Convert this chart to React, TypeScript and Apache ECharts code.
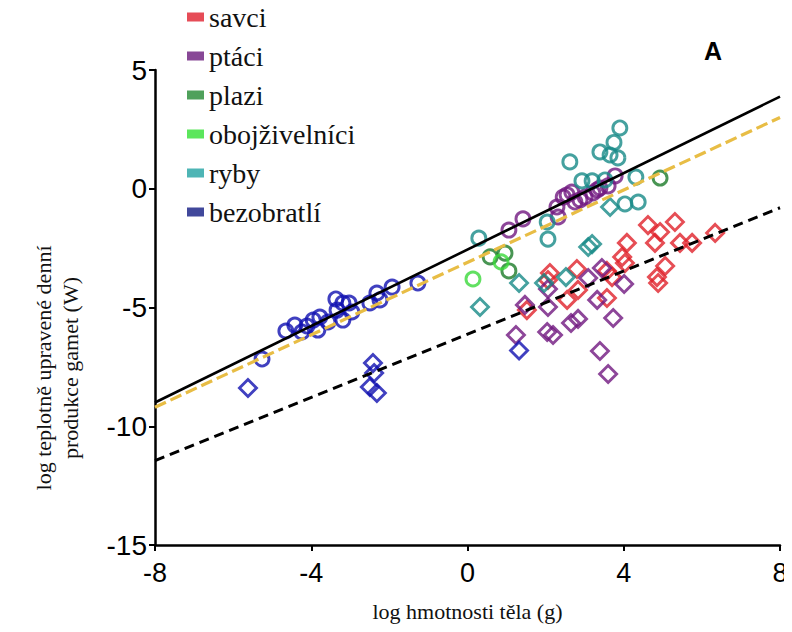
import React, { useEffect, useRef } from "react";
import * as echarts from "echarts";

// ---- data (log body mass [g], log temperature-corrected gamete production [W]) ----
const speciesNames = ["savci", "ptáci", "plazi", "obojživelníci", "ryby", "bezobratlí"];
const speciesColors = ["#e0222a", "#701880", "#1c7a28", "#3ad83a", "#178a87", "#1010b0"];
const legendColors = ["#e01f2d", "#6a1a7c", "#238a32", "#33e033", "#22a2a2", "#111a82"];

const savciDiamonds = [
  [1.52, -5.11], [2.11, -3.55], [2.06, -3.84], [2.8, -3.38], [2.55, -4.68], [2.83, -4.26],
  [3.57, -3.46], [3.7, -3.72], [3.57, -4.6], [4.08, -2.28], [3.96, -2.87], [4.03, -3.13],
  [4.8, -2.28], [4.62, -1.53], [4.93, -1.82], [5.31, -1.4], [5.44, -2.28], [5.75, -2.28],
  [6.34, -1.86], [5.06, -3.25], [4.85, -3.72], [4.88, -3.97],
];
const ptaciCircles = [
  [1.06, -1.74], [1.42, -1.27], [2.29, -0.77], [2.32, -1.19], [2.45, -0.35], [2.55, -0.26],
  [2.67, -0.14], [2.75, -0.56], [2.88, -0.47], [3.01, -0.35], [3.21, -0.18], [3.32, -0.05],
  [3.39, 0.03], [3.6, 0.12], [3.78, 0.54],
];
const ptaciDiamonds = [
  [1.47, -4.89], [2.06, -4.22], [2.06, -4.98], [3.09, -3.76], [3.44, -3.34], [3.32, -4.68],
  [4.01, -4.01], [1.24, -6.16], [2.04, -6.03], [2.19, -6.16], [2.65, -5.65], [2.83, -5.48],
  [3.73, -5.44], [3.39, -6.83], [3.6, -7.8],
];
const plaziCircles = [[0.58, -2.87], [0.96, -2.71], [1.06, -3.46], [4.93, 0.45]];
const obojzivelniciCircles = [[0.14, -3.8], [0.86, -3.08]];
const rybyCircles = [
  [3.9, 2.56], [3.75, 1.95], [3.39, 1.55], [3.65, 1.42], [3.85, 1.3], [2.62, 1.13],
  [4.31, 0.49], [2.93, 0.33], [3.19, 0.33], [3.52, 0.37], [4.03, -0.64], [4.37, -0.56],
  [0.29, -2.08], [2.04, -1.4], [2.06, -2.12],
];
const rybyDiamonds = [
  [3.65, -0.77], [3.09, -2.45], [3.19, -2.33], [0.32, -4.98], [1.32, -3.97], [1.96, -3.97],
  [2.52, -3.72],
];
const bezobratliCircles = [
  [-5.26, -7.17], [-4.65, -5.99], [-4.42, -5.74], [-4.24, -6.03], [-4.11, -5.78], [-3.95, -5.53],
  [-3.83, -5.95], [-3.78, -5.4], [-3.57, -5.61], [-3.37, -4.64], [-3.34, -5.11], [-3.19, -4.81],
  [-3.03, -4.81], [-3.19, -5.53], [-2.96, -5.19], [-2.5, -4.81], [-2.32, -4.39], [-2.24, -4.68],
  [-1.93, -4.14], [-1.27, -3.97],
];
const bezobratliDiamonds = [
  [-5.62, -8.39], [-2.42, -7.34], [-2.39, -7.76], [-2.5, -8.35], [-2.32, -8.6], [1.32, -6.81],
];

// regression lines
const fitSolid = [[-8, -9.0], [8, 3.88]];
const fitYellow = [[-8, -9.2], [8, 3.0]];
const fitDashed = [[-8, -11.45], [8, -0.8]];

const xTicks = { min: -8, max: 8, interval: 4 };
const yTicks = { min: -15, max: 5, interval: 5 };

const xTitle = "log hmotnosti těla (g)";
const yTitle = "log teplotně upravené denní\nprodukce gamet (W)";
const panelLabel = "A";

const SERIF = "Liberation Serif";
const SANS = "Liberation Sans";

function scatter(name: string, data: number[][], shape: "circle" | "diamond", color: string) {
  return {
    type: "scatter",
    name,
    data,
    symbol: shape,
    symbolSize: shape === "circle" ? 14 : 17,
    itemStyle: { color: "rgba(255,255,255,0)", borderColor: color, borderWidth: 2.9 },
    z: 3,
  };
}

export default function App() {
  const ref = useRef<HTMLDivElement>(null);
  useEffect(() => {
    if (!ref.current) return;
    const chart = echarts.init(ref.current, undefined, { renderer: "svg" });
    const c = (n: string) => speciesColors[speciesNames.indexOf(n)];
    const legendText = { fontFamily: SERIF, fontSize: 28, color: "#111", lineHeight: 28 };
    chart.setOption({
      animation: false,
      backgroundColor: "#ffffff",
      textStyle: { fontFamily: SERIF },
      grid: { left: 155, right: 12, top: 70, bottom: 87 },
      legend: {
        orient: "vertical",
        left: 187,
        top: 3,
        padding: 0,
        itemWidth: 17,
        itemHeight: 9,
        itemGap: 11,
        icon: "rect",
        textStyle: legendText,
        data: speciesNames.map((n, i) => ({
          name: n,
          icon: "rect",
          itemStyle: { color: legendColors[i], borderWidth: 0 },
          textStyle: legendText,
        })),
      },
      graphic: [
        {
          type: "text",
          x: 704,
          y: 38,
          style: { text: panelLabel, font: "bold 25px " + SANS, fill: "#000" },
        },
        {
          type: "text",
          x: 57,
          y: 368,
          rotation: Math.PI / 2,
          style: {
            text: yTitle,
            font: "22px " + SERIF,
            lineHeight: 27,
            fill: "#111",
            align: "center",
            verticalAlign: "middle",
          },
        },
      ],
      xAxis: {
        type: "value",
        ...xTicks,
        name: xTitle,
        nameLocation: "middle",
        nameGap: 55,
        nameTextStyle: { fontFamily: SERIF, fontSize: 22, color: "#111" },
        axisLine: { onZero: false, lineStyle: { color: "#000", width: 2.5 } },
        axisTick: { show: true, length: 6, lineStyle: { color: "#000", width: 2 } },
        axisLabel: { fontFamily: SANS, fontSize: 27, color: "#000", margin: 14 },
        splitLine: { show: false },
      },
      yAxis: {
        type: "value",
        ...yTicks,
        axisLine: { onZero: false, lineStyle: { color: "#000", width: 2.5 } },
        axisTick: { show: true, length: 6, lineStyle: { color: "#000", width: 2 } },
        axisLabel: { fontFamily: SANS, fontSize: 28, color: "#000", margin: 8 },
        splitLine: { show: false },
      },
      series: [
        scatter("savci", savciDiamonds, "diamond", c("savci")),
        scatter("ptáci", ptaciDiamonds, "diamond", c("ptáci")),
        scatter("ptáci", ptaciCircles, "circle", c("ptáci")),
        scatter("plazi", plaziCircles, "circle", c("plazi")),
        scatter("obojživelníci", obojzivelniciCircles, "circle", c("obojživelníci")),
        scatter("ryby", rybyCircles, "circle", c("ryby")),
        scatter("ryby", rybyDiamonds, "diamond", c("ryby")),
        scatter("bezobratlí", bezobratliCircles, "circle", c("bezobratlí")),
        scatter("bezobratlí", bezobratliDiamonds, "diamond", c("bezobratlí")),
        {
          type: "line",
          data: fitYellow,
          symbol: "none",
          lineStyle: { color: "#e8bd45", width: 3.2, type: [12, 5] },
          z: 4,
        },
        {
          type: "line",
          data: fitSolid,
          symbol: "none",
          lineStyle: { color: "#000", width: 2.6 },
          z: 5,
        },
        {
          type: "line",
          data: fitDashed,
          symbol: "none",
          lineStyle: { color: "#000", width: 3, type: [10, 6] },
          z: 5,
        },
      ],
    });
    return () => chart.dispose();
  }, []);
  return <div ref={ref} style={{ width: 792, height: 632, margin: -8 }} />;
}
